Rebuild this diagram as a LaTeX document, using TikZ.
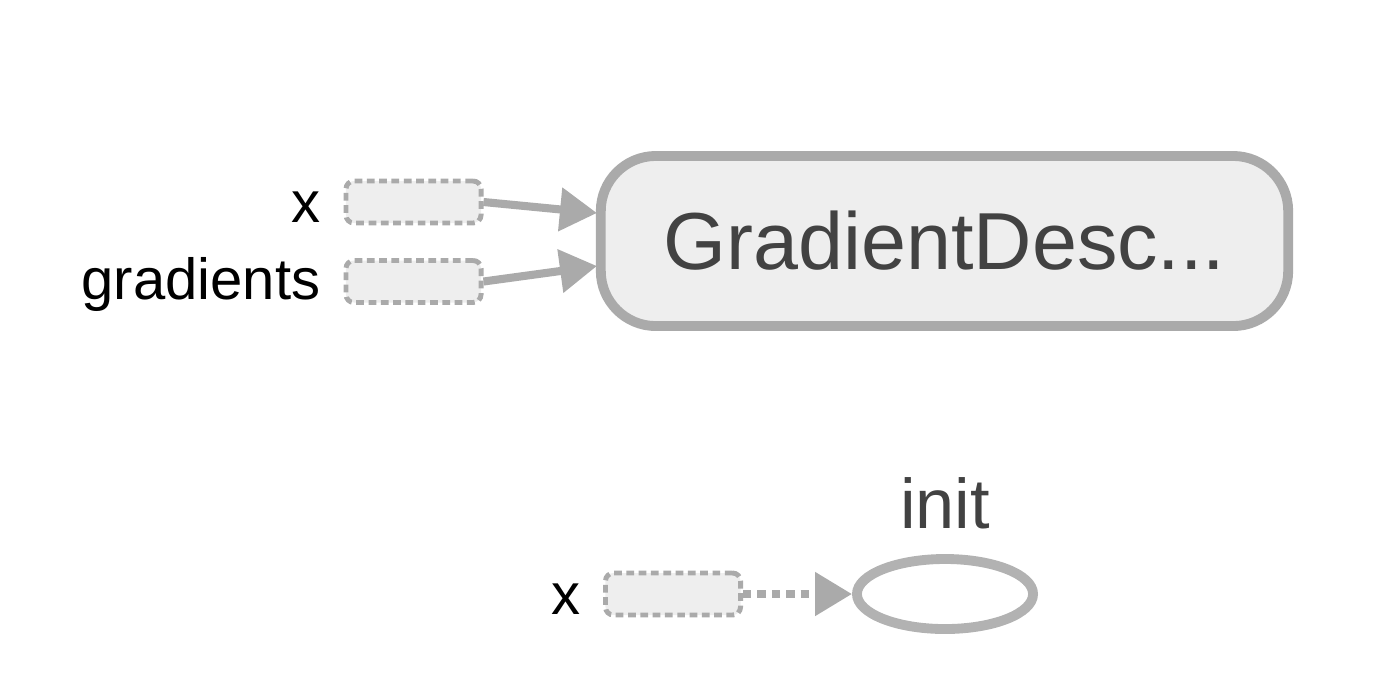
\documentclass[tikz,border=0pt]{standalone}
\usepackage{fontspec}
\setmainfont{Liberation Sans}
\usetikzlibrary{arrows.meta,shapes.geometric}
\definecolor{edgegray}{HTML}{AAAAAA}
\definecolor{fillgray}{HTML}{EEEEEE}
\definecolor{textgray}{HTML}{424242}
\definecolor{ellgray}{HTML}{B2B2B2}
\tikzset{
  opbox/.style={draw=edgegray, fill=fillgray, line width=2.8pt, rounded corners=0.55cm,
    minimum width=6.87cm, minimum height=1.70cm, inner sep=0pt, text=textgray,
    font=\fontsize{23}{27}\selectfont},
  inbox/.style={draw=edgegray, fill=fillgray, line width=1.4pt, dash pattern=on 2.2pt off 1.3pt,
    rounded corners=0.08cm, minimum width=1.35cm, minimum height=0.42cm, inner sep=0pt},
  inlabel/.style={anchor=east, text=black, inner sep=0pt, font=\fontsize{16.5}{20}\selectfont},
  ellnode/.style={draw=ellgray, ellipse, line width=2.8pt, minimum width=1.76cm,
    minimum height=0.70cm, inner sep=0pt},
  toplabel/.style={text=textgray, inner sep=0pt, font=\fontsize{20}{24}\selectfont},
  conn/.style={draw=edgegray, line width=2.3pt, -{Triangle[length=0.37cm,width=0.42cm]}},
  dconn/.style={conn, dash pattern=on 2.4pt off 1.7pt}
}
\begin{document}
\begin{tikzpicture}[x=0.01cm,y=-0.01cm]
\useasboundingbox (0,0) rectangle (1376,690);
\node[opbox] (gd) at (944.5,241) {GradientDesc...};
\node[inbox] (in1) at (413.5,202) {};
\node[inbox] (in2) at (413.5,281.5) {};
\node[inlabel] (l1) at (321,207) {x};
\node[inlabel] (l2) at (321,284) {gradients};
\coordinate (t1) at (597,213);
\coordinate (t2) at (597,266);
\draw[conn] (in1.east) -- (t1);
\draw[conn] (in2.east) -- (t2);
\node[inbox] (in3) at (673,594) {};
\node[inlabel] (l3) at (581,599) {x};
\node[ellnode] (init) at (945,594) {};
\node[toplabel] (initlabel) at (945,503) {init};
\draw[dconn] (in3.east) -- (init.west);
\end{tikzpicture}
\end{document}
